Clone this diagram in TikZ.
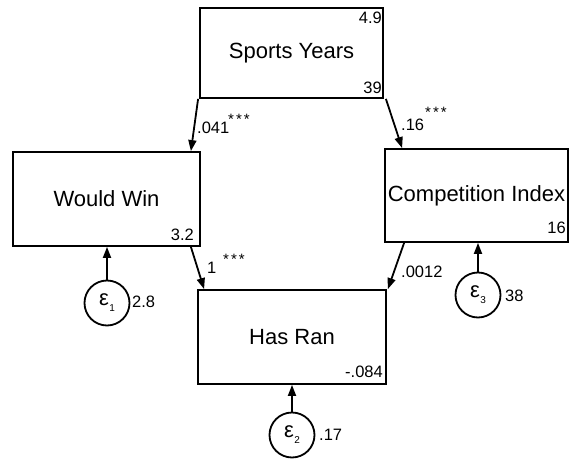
\documentclass[tikz,border=0pt]{standalone}
\usepackage{fontspec}
\setmainfont{Liberation Sans}
\usetikzlibrary{arrows.meta,calc}

\tikzset{
  varbox/.style={draw, line width=1.8pt, minimum width=185pt, minimum height=92pt,
    inner sep=0pt, font=\fontsize{22}{24}\selectfont},
  errc/.style={draw, circle, line width=1.8pt, minimum size=45pt, inner sep=0pt,
    font=\fontsize{22}{22}\selectfont},
  num/.style={inner sep=0pt, font=\fontsize{16.5}{18}\selectfont},
  stars/.style={inner sep=0pt, font=\fontsize{15}{16}\selectfont},
  path/.style={line width=1.8pt, -{Triangle[length=11pt,width=8pt]}},
}
\newcommand{\eps}[1]{ε\kern0.5pt\raisebox{-6pt}{\fontsize{10}{10}\selectfont #1}}
\newcommand{\threestars}{*\kern2pt*\kern2pt*}

\begin{document}
\begin{tikzpicture}[x=1pt,y=-1pt]
  \useasboundingbox (0,0) rectangle (571,466);

  % observed variables
  \node[varbox, minimum width=183pt, minimum height=90pt] (sy) at (291.5,53) {Sports Years};
  \node[varbox, minimum width=187pt, minimum height=94pt] (ww) at (106.5,199) {Would Win};
  \node[varbox, minimum width=183pt, minimum height=93pt] (ci) at (476.5,195.5) {Competition Index};
  \node[varbox, minimum width=188pt, minimum height=94pt] (hr) at (292,337) {Has Ran};

  % error terms
  \node[errc] (e1) at (107,303) {\eps{1}};
  \node[errc] (e2) at (292,435) {\eps{2}};
  \node[errc] (e3) at (478,295) {\eps{3}};

  % intercepts and variances inside the boxes
  \node[num, anchor=east] (sy-mean) at (382,18) {4.9};
  \node[num, anchor=east] (sy-var)  at (382,88) {39};
  \node[num, anchor=east] (ww-cons) at (194,235) {3.2};
  \node[num, anchor=east] (ci-cons) at (566,228) {16};
  \node[num, anchor=east] (hr-cons) at (383,372) {-.084};

  % error variances
  \node[num, anchor=west] (e1-var) at (132,302) {2.8};
  \node[num, anchor=west] (e2-var) at (319,435) {.17};
  \node[num, anchor=west] (e3-var) at (505,296) {38};

  % structural paths
  \draw[path] ($(sy.south west)+(-1,0)$) -- ($(ww.north east)+(-10,0)$);
  \draw[path] ($(sy.south east)+(2,0)$) -- ($(ci.north west)+(18,0)$);
  \draw[path] ($(ww.south east)+(-10,0)$) -- ($(hr.north west)+(7,0)$);
  \draw[path] ($(ci.south west)+(20,0)$) -- ($(hr.north east)+(1,0)$);

  % error paths
  \draw[path] (e1.north) -- (e1.north |- ww.south);
  \draw[path] (e2.north) -- (e2.north |- hr.south);
  \draw[path] (e3.north) -- (e3.north |- ci.south);

  % path coefficients
  \node[num, anchor=west] (c1) at (197,127.5) {.041};
  \node[stars, anchor=west] (s1) at (228,119) {\threestars};
  \node[num, anchor=west] (c2) at (401,125) {.16};
  \node[stars, anchor=west] (s2) at (425,112) {\threestars};
  \node[num, anchor=west] (c3) at (207,268) {1};
  \node[stars, anchor=west] (s3) at (223,259) {\threestars};
  \node[num, anchor=west] (c4) at (401,272) {.0012};
\end{tikzpicture}
\end{document}
